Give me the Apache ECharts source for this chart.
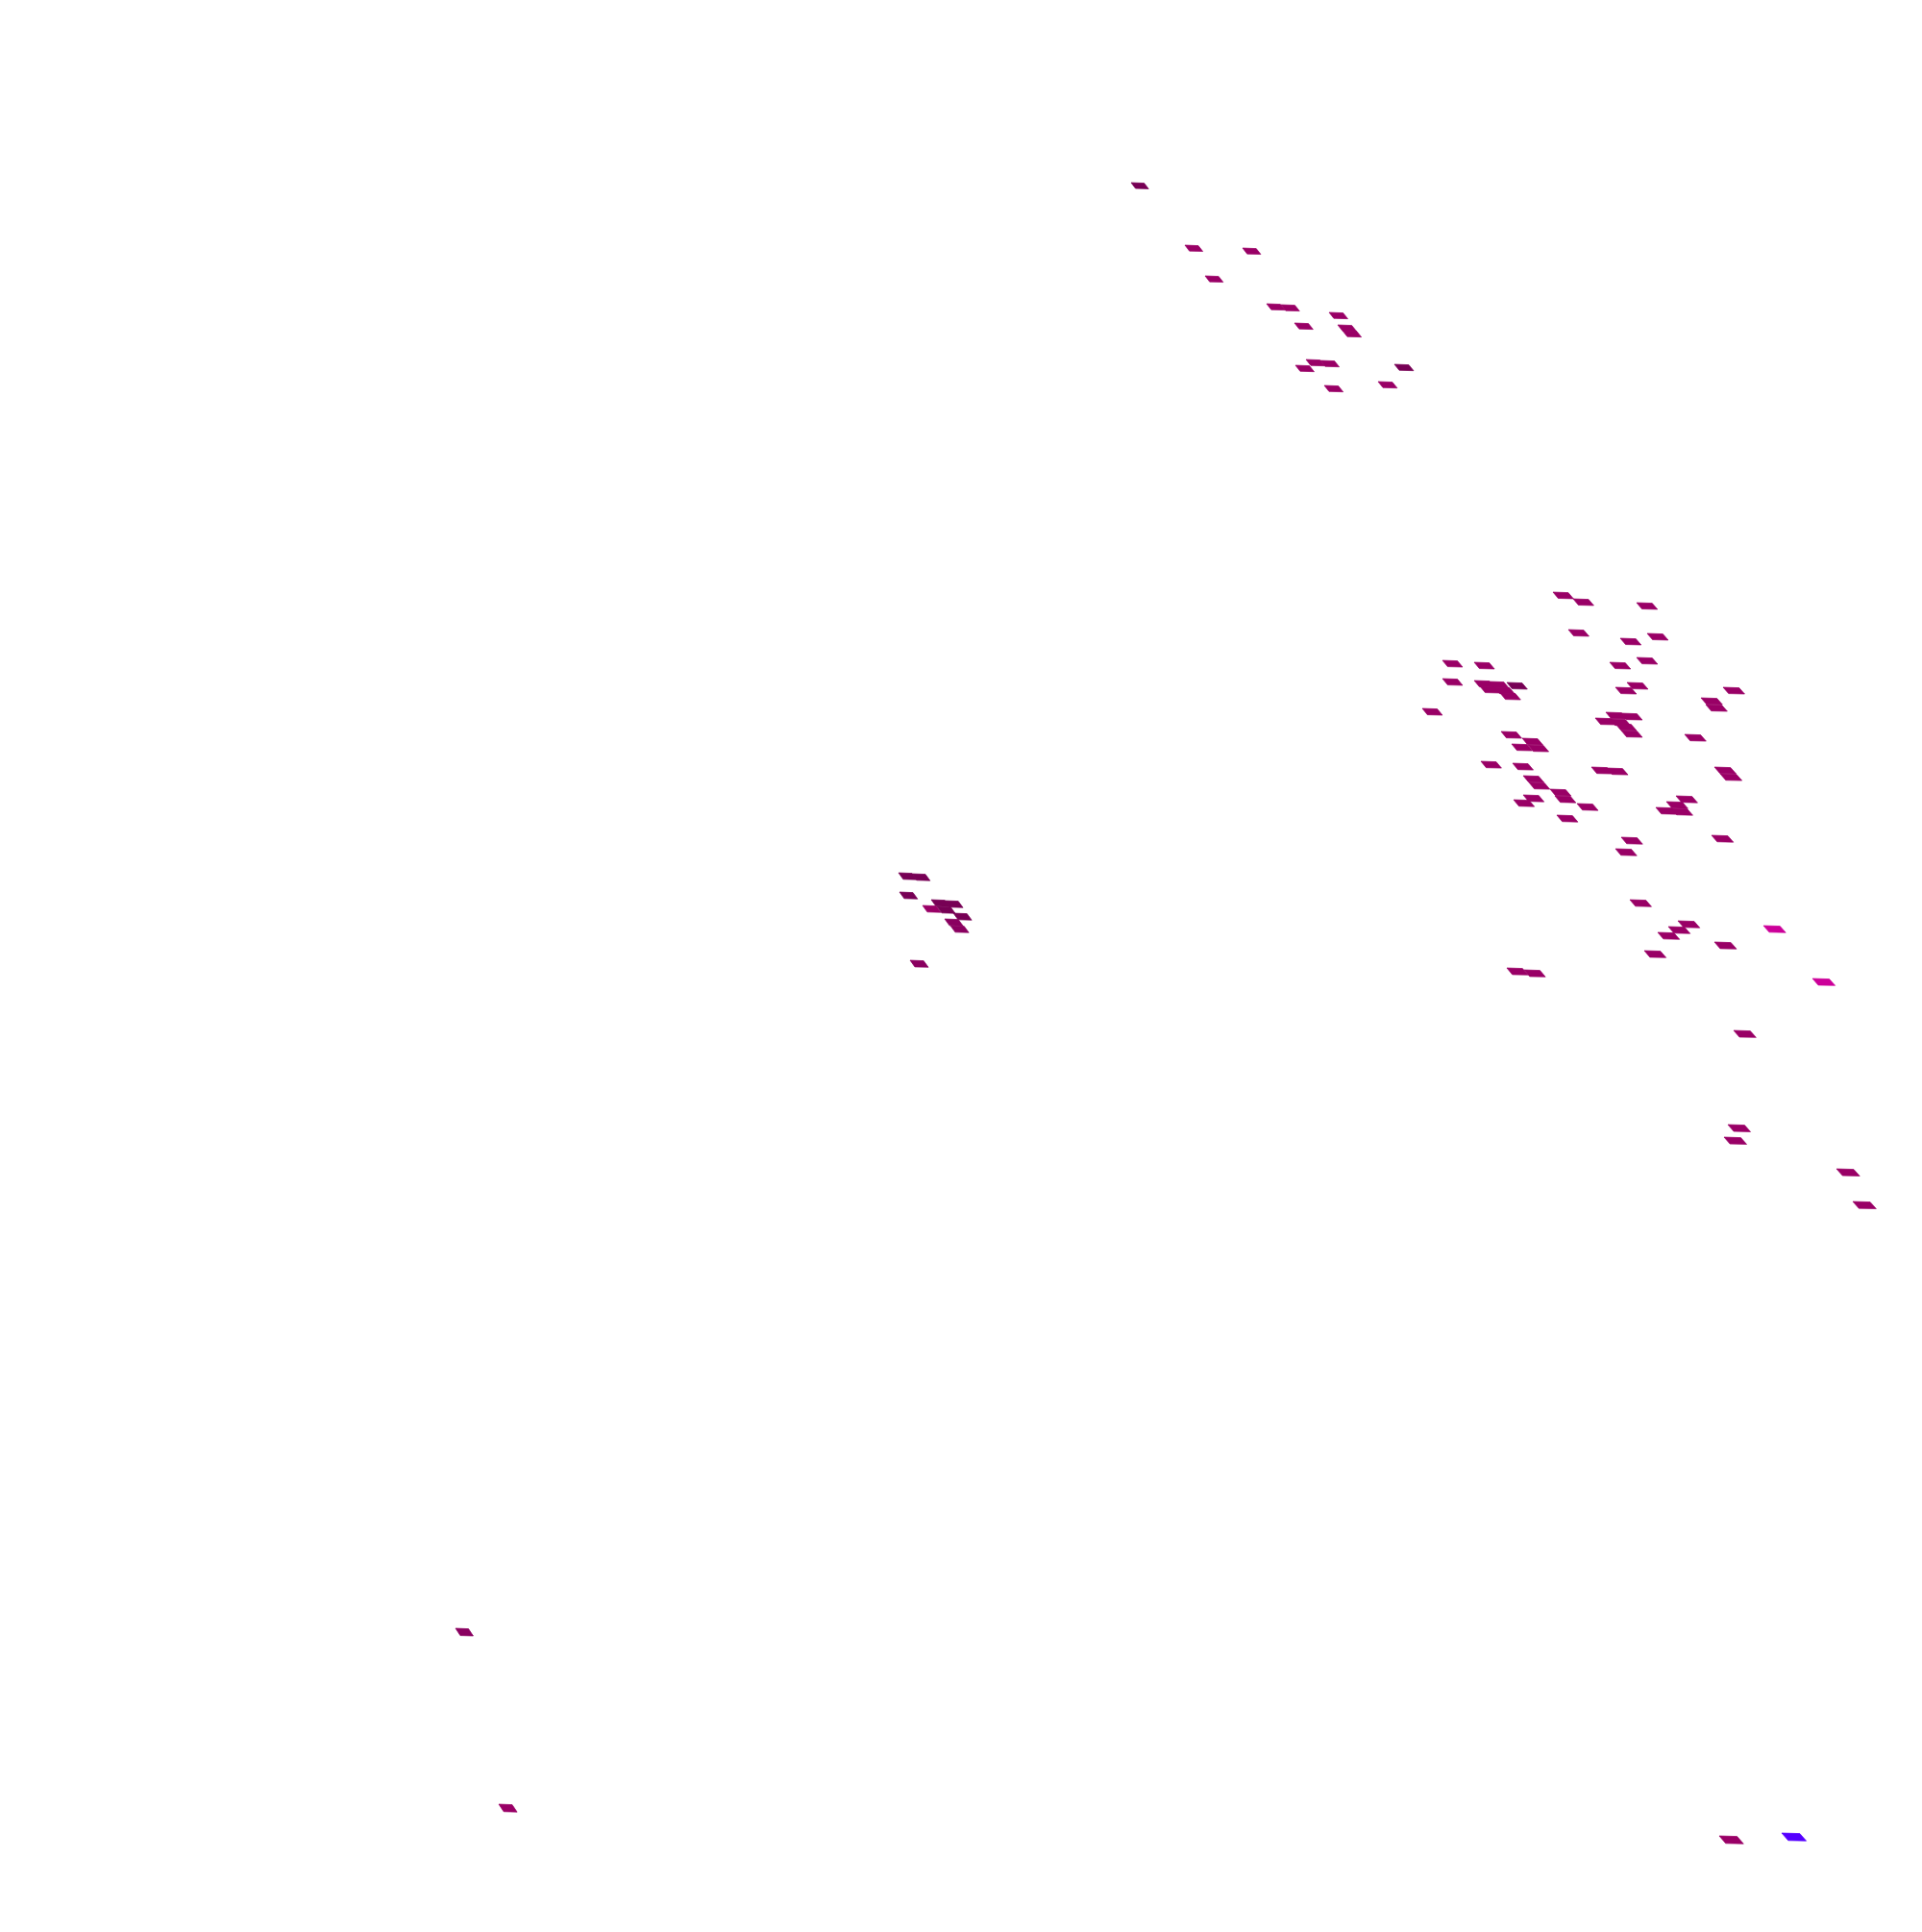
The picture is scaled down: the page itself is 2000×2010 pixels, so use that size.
<!DOCTYPE html>
<html><head><meta charset="utf-8">
<style>html,body{margin:0;padding:0;background:#fff}#c{width:2000px;height:2010px}</style>
<script src="https://cdn.jsdelivr.net/npm/echarts@6/dist/echarts.min.js"></script>
</head><body><div id="c"></div>
<script>
// Cell anchors; shade: 0 blue, 1 bright, 2 main, 3 dark, 4 mid-dark
const cellX = [1177,1233,1293,1254,1318,1333,1383,1347,1392,1397,1359,1374,1348,1451,1378,1434,
 1681,1696,1746,1736,1725,1835,1784,1711,1568,1586,1886,1804,1798,1794,1911,1928,
 1616,1637,1703,1632,1686,1714,1675,1703,1501,1534,1501,1534,1549,1540,1555,1561,1568,
 1681,1693,1793,1770,1775,1480,1671,1687,1660,1675,1681,1687,1753,1562,1584,1573,1590,
 1541,1574,1656,1672,1784,1790,1585,1591,1613,1618,1585,1575,1641,1620,1744,1734,1723,1739,1687,1781,
 935,949,936,969,983,960,975,992,983,989,947,474,519,1789,1854];
const cellY = [190,255,258,287,316,317,325,336,338,344,374,375,380,379,401,397,
 883,936,958,964,970,963,980,989,1007,1009,1018,1072,1170,1183,1216,1250,
 616,623,627,655,664,659,689,684,687,689,706,708,709,714,715,721,710,
 715,710,715,726,733,737,741,742,747,748,753,760,764,761,768,774,775,
 792,794,798,799,798,805,807,814,821,828,827,832,836,848,828,834,840,841,871,869,
 908,909,928,936,937,942,943,950,956,963,999,1694,1877,1910,1907];
const cellShade = [3,2,2,2,2,2,2,2,2,2,2,2,2,3,2,2,
 2,2,2,2,2,1,2,2,2,2,1,2,2,2,2,2,
 2,2,2,2,2,2,2,2,2,2,2,2,2,2,2,2,3,
 2,2,2,2,2,2,2,2,2,2,2,2,2,2,2,2,2,
 2,2,2,2,2,2,2,2,2,2,2,2,2,2,2,2,2,2,2,2,
 3,3,3,3,3,2,3,3,4,4,4,4,2,2,0];
const shadeColors = ['#5500ff','#cc0099','#990066','#770055','#8a0060'];

const data = cellX.map((x,i)=>[x,cellY[i],cellShade[i]]);

function renderCell(params, api){
  const x = api.value(0), y = api.value(1);
  const w = 9.1 + 0.0036*x + 0.0016*y, s = 3 + 0.0012*x + 0.0008*y, h = 6.3 + 0.001*y;
  const pts = [[x,y],[x+w,y+0.6],[x+w+s,y+h],[x+s,y+h-0.4]].map(p=>api.coord(p));
  const c = shadeColors[api.value(2)];
  return {type:'polygon',shape:{points:pts},style:{fill:c,stroke:c,lineWidth:0.7}};
}
const chart = echarts.init(document.getElementById('c'),null,{renderer:'canvas'});
chart.setOption({
  animation:false,
  backgroundColor:'#ffffff',
  grid:{left:0,top:0,width:2000,height:2010},
  xAxis:{type:'value',min:0,max:2000,show:false},
  yAxis:{type:'value',min:0,max:2010,inverse:true,show:false},
  series:[{type:'custom',coordinateSystem:'cartesian2d',renderItem:renderCell,
    encode:{x:0,y:1},data:data,silent:true}]
});
</script></body></html>
